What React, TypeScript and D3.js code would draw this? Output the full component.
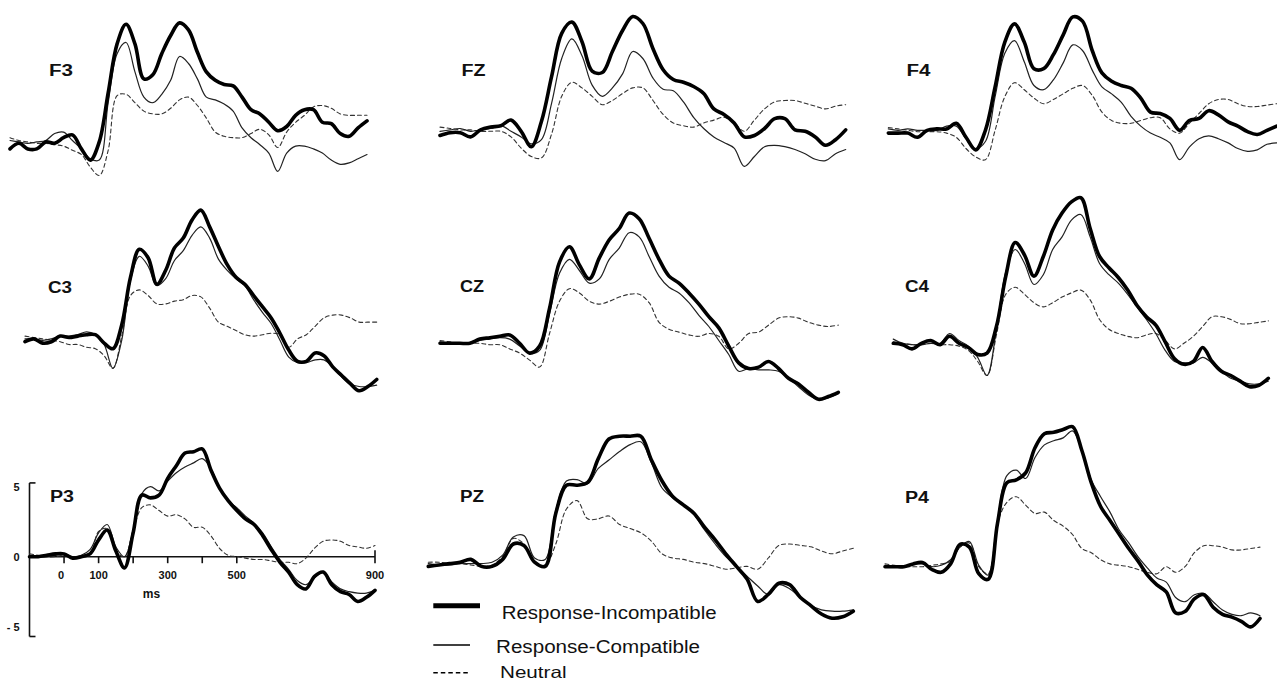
import React from "react";
import * as d3 from "d3";

// sampling grid of the grand averages (ms)
const times = d3.range(-100, 901, 25);
const conditions = ["Response-Incompatible", "Response-Compatible", "Neutral"];

// amplitudes in microvolts, one value per 25 ms from -100 to 900
const f3Incompatible = [-0.4, 0, -0.4, -0.4, 0.1, 0, 0.4, 0.6, -0.4, -1.2, 0.1, 3.6, 7.1, 8.5, 7.1, 4.6, 4.9, 6.4, 7.7, 8.6, 8.1, 6.5, 5.1, 4.5, 4.2, 4.1, 3.3, 2.4, 2.1, 1.5, 0.9, 1.2, 2.0, 2.4, 2.4, 1.5, 1.4, 0.7, 0.5, 1.1, 1.6];
const f3Compatible = [0.2, 0.1, 0, 0.1, 0.2, 0.7, 0.8, 0.2, -0.4, -1.1, -1.2, 2.9, 6.4, 7.2, 5.1, 3.3, 2.9, 3.5, 4.5, 6.2, 5.7, 4.6, 3.3, 3.1, 2.8, 2.3, 1.1, 0.4, -0.1, -0.7, -2.0, -0.7, -0.2, -0.2, -0.4, -0.7, -1.2, -1.5, -1.4, -1.1, -0.8];
const f3Neutral = [0.4, 0.2, 0.1, 0, 0, -0.1, -0.2, -0.5, -0.8, -1.7, -2.3, -0.5, 3.4, 3.5, 2.9, 2.3, 2.1, 2.1, 2.5, 3.1, 3.3, 2.7, 1.8, 0.8, 0.5, 0.4, 0.4, 0.7, 1.0, 0.6, -0.3, 0.8, 1.5, 2.0, 2.6, 2.7, 2.5, 2.1, 2.0, 2.0, 2.0];

const fzIncompatible = [-0.2, 0, 0, -0.3, 0.2, 0.4, 0.5, 0.9, 0.1, -1.0, 0.8, 4.0, 7.1, 7.9, 6.5, 4.4, 4.3, 5.8, 7.3, 8.3, 7.8, 6.0, 4.5, 3.8, 3.6, 3.3, 2.8, 1.7, 1.3, 0.7, -0.3, -0.2, 0.3, 1.0, 1.0, 0.2, 0.1, -0.3, -0.9, -0.5, 0.2];
const fzCompatible = [0.1, 0.2, 0.3, 0.1, 0.2, 0.3, 0.5, 0.1, -0.3, -0.8, -0.5, 2.1, 5.3, 6.7, 5.5, 3.4, 2.6, 3.2, 4.2, 5.8, 5.3, 3.9, 3.1, 3.0, 2.2, 1.1, 0.3, -0.3, -0.7, -1.1, -2.4, -1.7, -1.0, -0.9, -1.0, -1.2, -1.5, -1.9, -2.0, -1.5, -1.2];
const fzNeutral = [0.4, 0.3, 0.2, 0.2, 0.1, 0.1, 0.1, -0.3, -1.1, -1.7, -1.8, -0.1, 2.6, 3.6, 3.2, 2.6, 2.0, 2.3, 2.8, 3.2, 3.2, 2.3, 1.3, 0.7, 0.5, 0.4, 0.7, 0.9, 1.1, 0.7, 0.1, 0.9, 1.7, 2.2, 2.3, 2.3, 2.1, 1.9, 1.7, 1.9, 2.0];

const f4Incompatible = [-0.1, -0.1, -0.1, -0.4, 0.1, 0.2, 0.2, 0.6, -0.4, -1.3, 0.1, 3.2, 6.4, 7.7, 6.4, 4.5, 4.5, 5.5, 6.9, 8.2, 7.9, 5.8, 4.2, 3.6, 3.3, 3.1, 2.4, 1.4, 1.3, 0.95, 0.1, 0.8, 0.95, 1.5, 1.2, 0.7, 0.4, 0, -0.2, 0.1, 0.4];
const f4Compatible = [0.2, 0.1, 0.2, 0.1, 0.1, 0.1, 0.4, 0.4, -0.5, -1.2, -0.7, 2.5, 5.6, 6.5, 5.0, 3.3, 3.0, 3.7, 4.9, 6.2, 5.8, 4.4, 3.2, 2.7, 2.1, 1.1, 0.4, -0.1, -0.4, -0.8, -2.0, -1.1, -0.5, -0.3, -0.5, -0.8, -1.2, -1.4, -1.3, -0.9, -0.8];
const f4Neutral = [0.3, 0.2, 0.1, 0, 0, 0, -0.1, -0.4, -1.2, -1.8, -2.0, 0.1, 2.5, 3.5, 3.0, 2.4, 2.0, 2.3, 2.7, 3.1, 3.3, 2.6, 1.4, 0.8, 0.6, 0.6, 0.8, 1.0, 1.0, 0.2, -0.1, 0.6, 1.3, 2.0, 2.3, 2.3, 2.0, 1.8, 1.8, 1.9, 2.0];

const c3Incompatible = [0, 0.2, -0.1, 0, 0.4, 0.3, 0.4, 0.5, 0.5, -0.1, -0.5, 1.2, 4.6, 6.6, 6.0, 4.1, 5.1, 6.7, 7.4, 8.7, 9.4, 8.2, 6.8, 5.5, 4.6, 4.1, 3.3, 2.5, 1.7, 0.6, -0.6, -1.4, -1.4, -0.8, -1.0, -1.8, -2.4, -3.0, -3.5, -3.2, -2.7];
const c3Compatible = [0.2, 0.2, 0.1, 0.2, 0.4, 0.4, 0.5, 0.7, 0.5, -0.2, -1.9, 0.1, 4.4, 6.1, 5.4, 4.0, 4.5, 5.8, 6.5, 7.6, 8.2, 7.4, 5.9, 5.1, 4.5, 4.0, 3.0, 2.1, 1.3, 0.1, -1.1, -1.5, -1.5, -1.3, -1.3, -1.8, -2.5, -3.0, -3.2, -3.2, -3.1];
const c3Neutral = [0.4, 0.3, 0.2, 0.1, 0, -0.2, -0.2, -0.4, -0.5, -1.0, -1.9, 0.4, 3.3, 3.7, 3.3, 2.7, 2.7, 2.9, 3.0, 3.3, 3.2, 2.4, 1.4, 1.1, 0.8, 0.5, 0.4, 0.5, 0.6, 0.5, -0.4, 0.2, 0.5, 1.1, 1.7, 1.9, 1.9, 1.7, 1.4, 1.4, 1.4];

const czIncompatible = [0, 0, 0, 0, 0.3, 0.4, 0.5, 0.6, 0, -0.7, -0.2, 2.5, 5.8, 6.9, 5.6, 4.6, 6.1, 7.4, 8.2, 9.3, 8.9, 7.5, 6.0, 4.8, 4.3, 3.6, 2.8, 1.9, 1.1, -0.2, -1.4, -1.8, -1.7, -1.3, -1.8, -2.5, -2.9, -3.5, -4.0, -3.8, -3.5];
const czCompatible = [0.1, 0, 0, 0, 0.2, 0.3, 0.4, 0.3, -0.2, -0.7, -0.5, 2.1, 5.0, 6.0, 5.2, 4.3, 4.6, 6.0, 6.8, 7.9, 7.6, 6.2, 4.8, 4.0, 3.6, 2.9, 2.0, 1.2, 0.2, -0.8, -2.0, -1.8, -1.9, -1.9, -2.0, -2.5, -3.1, -3.7, -4.0, -3.9, -3.6];
const czNeutral = [0.2, 0.1, 0, 0, 0, -0.1, -0.1, -0.4, -0.7, -1.2, -1.7, 0.7, 3.0, 3.9, 3.6, 3.0, 2.8, 3.0, 3.3, 3.5, 3.5, 2.9, 1.5, 1.0, 0.8, 0.6, 0.5, 0.7, 0.5, -0.4, 0, 0.7, 0.8, 1.3, 1.8, 1.9, 1.8, 1.5, 1.3, 1.2, 1.3];

const c4Incompatible = [0, -0.1, -0.4, 0, 0.2, -0.1, 0.5, 0, -0.3, -0.8, -0.7, 1.2, 4.8, 7.2, 6.3, 4.8, 6.2, 8.1, 9.3, 10.1, 10.4, 8.2, 6.2, 5.4, 4.7, 3.8, 2.7, 1.9, 1.3, 0.1, -1.1, -1.5, -1.3, -0.3, -1.3, -2.0, -2.3, -2.7, -3.1, -3.0, -2.5];
const c4Compatible = [0.3, 0, -0.1, -0.1, 0, 0, 0.7, 0.2, -0.2, -1.0, -2.3, 1.0, 5.1, 6.7, 5.7, 4.2, 4.9, 6.7, 7.6, 8.8, 9.2, 7.6, 5.7, 4.9, 4.3, 3.5, 2.6, 1.7, 0.7, -0.5, -1.3, -1.4, -1.4, -1.0, -1.4, -2.0, -2.5, -2.7, -2.9, -2.9, -2.7];
const c4Neutral = [0.1, 0, -0.1, -0.1, 0, -0.1, -0.1, -0.2, -0.5, -1.3, -2.3, 0.6, 3.5, 4.0, 3.5, 2.9, 2.6, 2.9, 3.3, 3.6, 3.8, 3.1, 1.7, 1.0, 0.7, 0.5, 0.4, 0.6, 0.7, 0.2, -0.4, 0, 0.5, 1.2, 1.9, 1.9, 1.7, 1.4, 1.4, 1.5, 1.6];

const p3Incompatible = [0, 0, 0.1, 0.2, 0.2, -0.1, 0, 0.2, 1.2, 1.9, 0.4, -0.8, 1.7, 4.4, 4.2, 4.4, 5.6, 6.5, 7.4, 7.5, 7.7, 6.2, 4.9, 4.0, 3.3, 2.7, 2.3, 1.5, 0.5, -0.4, -1.1, -2.0, -2.3, -1.4, -1.1, -2.0, -2.5, -2.7, -3.2, -2.9, -2.4];
const p3Compatible = [0.1, 0, 0, 0.1, 0.2, 0, 0.1, 0.5, 1.7, 2.3, 0.7, 0, 1.9, 4.5, 5.0, 4.7, 5.4, 6.0, 6.4, 6.7, 7.0, 6.3, 4.9, 4.0, 3.5, 2.9, 2.4, 1.7, 0.7, -0.2, -0.9, -1.7, -2.0, -1.5, -1.1, -1.8, -2.3, -2.5, -2.6, -2.6, -2.4];
const p3Neutral = [0.2, 0.1, 0, 0, 0.1, 0, 0, 0.1, 1.8, 2.0, 0.4, 0, 1.9, 3.5, 3.7, 3.3, 2.9, 3.0, 2.7, 2.1, 2.1, 1.5, 0.6, 0.1, 0, -0.1, -0.2, -0.2, -0.3, -0.4, -0.4, -0.5, -0.1, 0.6, 1.1, 1.2, 1.1, 0.8, 0.7, 0.6, 0.8];

const pzIncompatible = [-0.1, 0, 0.1, 0.2, 0.4, -0.1, -0.1, 0.4, 1.5, 1.4, 0.2, -0.1, 3.7, 5.7, 5.7, 5.9, 7.6, 9.0, 9.2, 9.2, 9.2, 7.5, 6.0, 4.9, 4.3, 3.7, 2.7, 1.8, 0.8, -0.1, -1.0, -2.6, -2.1, -1.3, -1.4, -2.3, -2.9, -3.5, -3.8, -3.7, -3.3];
const pzCompatible = [0.1, 0, 0, 0.1, 0.1, 0.1, 0.2, 0.7, 2.0, 2.1, 0.5, 0.4, 3.9, 6.0, 6.1, 5.8, 6.9, 7.5, 8.1, 8.6, 8.8, 7.3, 5.5, 4.8, 4.3, 3.6, 2.5, 1.5, 0.6, -0.1, -0.8, -1.5, -2.1, -1.4, -1.7, -2.3, -2.9, -3.2, -3.3, -3.3, -3.2];
const pzNeutral = [0.2, 0.2, 0.1, 0.1, 0, -0.1, 0, 0.6, 1.9, 1.5, 0.2, 0, 1.5, 4.0, 4.6, 3.3, 3.3, 3.5, 2.9, 2.6, 2.3, 1.7, 0.8, 0.5, 0.4, 0.2, 0.1, -0.1, -0.3, -0.2, -0.1, -0.3, 0.5, 1.4, 1.5, 1.4, 1.3, 1.0, 0.8, 1.0, 1.2];

const p4Incompatible = [0, 0, 0, 0.2, 0.3, -0.2, -0.4, 0.2, 1.6, 1.4, -0.5, -0.9, 3.1, 6.0, 6.2, 6.7, 8.5, 9.5, 9.6, 9.8, 10.0, 8.3, 6.0, 4.3, 3.3, 2.3, 1.3, 0.4, -0.6, -1.3, -1.8, -3.3, -3.2, -2.3, -2.0, -2.9, -3.4, -3.6, -3.9, -4.3, -3.7];
const p4Compatible = [0.1, 0, 0, 0.2, 0.2, 0, 0.1, 0.5, 1.4, 1.8, 0.1, -0.6, 3.3, 6.5, 6.9, 6.3, 7.8, 8.7, 9.0, 9.2, 9.7, 8.3, 6.2, 5.0, 3.9, 2.6, 1.7, 0.7, -0.1, -0.8, -1.1, -2.2, -2.5, -2.0, -1.9, -2.5, -3.1, -3.4, -3.5, -3.3, -3.5];
const p4Neutral = [0.2, 0.1, 0, 0, 0, 0.1, 0.2, 0.4, 1.4, 1.7, 0, -0.5, 3.1, 4.6, 5.0, 4.4, 3.8, 3.9, 3.3, 2.9, 2.3, 1.3, 1.0, 0.5, 0.2, 0.1, 0, -0.2, -0.4, -0.5, 0, -0.4, 0, 1.0, 1.5, 1.5, 1.4, 1.2, 1.2, 1.3, 1.4];

const electrodes = ["F3", "FZ", "F4", "C3", "CZ", "C4", "P3", "PZ", "P4"];
const seriesByElectrode: Record<string, number[][]> = {
  F3: [f3Incompatible, f3Compatible, f3Neutral],
  FZ: [fzIncompatible, fzCompatible, fzNeutral],
  F4: [f4Incompatible, f4Compatible, f4Neutral],
  C3: [c3Incompatible, c3Compatible, c3Neutral],
  CZ: [czIncompatible, czCompatible, czNeutral],
  C4: [c4Incompatible, c4Compatible, c4Neutral],
  P3: [p3Incompatible, p3Compatible, p3Neutral],
  PZ: [pzIncompatible, pzCompatible, pzNeutral],
  P4: [p4Incompatible, p4Compatible, p4Neutral],
};

const xTicks = [0, 100, 200, 300, 400, 500];
const xTickLabels = [0, 100, 300, 500, 900];
const yTickLabels = [5, 0, -5];

// where every panel sits on the page (x at -100 ms and 900 ms, y of 0 µV)
const layout: Record<string, { x0: number; x1: number; y0: number; lx: number; ly: number }> = {
  F3: { x0: 10, x1: 367, y0: 143.3, lx: 49, ly: 75.5 },
  FZ: { x0: 440, x1: 845.7, y0: 132.7, lx: 461.5, ly: 75.5 },
  F4: { x0: 888.3, x1: 1276.7, y0: 131.7, lx: 906.5, ly: 76 },
  C3: { x0: 25, x1: 376.7, y0: 341.7, lx: 48, ly: 293 },
  CZ: { x0: 440, x1: 838.3, y0: 343.3, lx: 460, ly: 291.5 },
  C4: { x0: 893.3, x1: 1268.3, y0: 343.3, lx: 905, ly: 292 },
  P3: { x0: 29.5, x1: 375, y0: 556.7, lx: 50, ly: 501.5 },
  PZ: { x0: 428.3, x1: 853.3, y0: 565, lx: 460, ly: 501.7 },
  P4: { x0: 885, x1: 1260, y0: 566.7, lx: 905, ly: 503 },
};
const PX_PER_UV = 14;

const styles = [
  { stroke: "#000", width: 3.6, dash: null as string | null },
  { stroke: "#222", width: 1.2, dash: null as string | null },
  { stroke: "#333", width: 1.1, dash: "4 3" },
];

const FONT = "'Liberation Sans', Arial, Helvetica, sans-serif";

function Panel({ name }: { name: string }) {
  const l = layout[name];
  const x = d3.scaleLinear().domain([-100, 900]).range([l.x0, l.x1]);
  const y = d3.scaleLinear().domain([0, 1]).range([l.y0, l.y0 - PX_PER_UV]);
  const line = d3
    .line<number>()
    .x((_, i) => x(times[i]))
    .y((d) => y(d))
    .curve(d3.curveCatmullRom.alpha(0.5));
  const data = seriesByElectrode[name];
  const order = [2, 1, 0];

  return (
    <g>
      {name === "P3" && (
        <g stroke="#111" strokeWidth={1.6} fill="none">
          <line x1={x(-100)} x2={x(-100)} y1={y(5.27)} y2={y(-5.7)} />
          <line x1={x(-100)} x2={x(-100) + 6} y1={y(5.27)} y2={y(5.27)} />
          <line x1={x(-100)} x2={x(-100) + 6} y1={y(-5.7)} y2={y(-5.7)} />
          <line x1={x(-100)} x2={x(900)} y1={y(0)} y2={y(0)} />
          {xTicks.map((t) => (
            <line key={t} x1={x(t)} x2={x(t)} y1={y(0)} y2={y(0) + 6.5} />
          ))}
          <line x1={x(900)} x2={x(900)} y1={y(0) - 6.5} y2={y(0) + 6.5} />
        </g>
      )}
      {name === "P3" && (
        <g fontFamily={FONT} fontWeight="bold" fontSize={11} fill="#111">
          {xTickLabels.map((t) => (
            <text key={t} x={x(t) - (t === 0 ? 3 : 0)} y={y(0) + 22.5} textAnchor="middle">
              {t}
            </text>
          ))}
          {yTickLabels.map((v) => (
            <text key={v} x={19.5} y={y(v) + 4} textAnchor="end">
              {v < 0 ? "- " + Math.abs(v) : v}
            </text>
          ))}
          <text x={x(250) + 1} y={598} textAnchor="middle" fontSize={12}>
            ms
          </text>
        </g>
      )}
      {order.map((k) => (
        <path
          key={k}
          d={line(data[k]) || ""}
          fill="none"
          stroke={styles[k].stroke}
          strokeWidth={styles[k].width}
          strokeDasharray={styles[k].dash || undefined}
          strokeLinejoin="round"
          strokeLinecap="round"
        />
      ))}
      <text
        x={l.lx}
        y={l.ly}
        fontFamily={FONT}
        fontWeight="bold"
        fontSize={16}
        textLength={24}
        lengthAdjust="spacingAndGlyphs"
        fill="#111"
      >
        {name}
      </text>
    </g>
  );
}

function Legend() {
  const rows = [
    { y: 605.7, x2: 480, ty: 619.3, tx: 501.7, tw: 215 },
    { y: 645, x2: 470, ty: 653.3, tx: 496, tw: 204 },
    { y: 672.7, x2: 470, ty: 677.5, tx: 500, tw: 66.5 },
  ];
  return (
    <g>
      {rows.map((r, i) => (
        <g key={conditions[i]}>
          <line
            x1={433.3}
            x2={r.x2}
            y1={r.y}
            y2={r.y}
            stroke="#000"
            strokeWidth={i === 0 ? 5 : 1.5}
            strokeDasharray={i === 2 ? "4.5 3" : undefined}
          />
          <text
            x={r.tx}
            y={r.ty}
            fontFamily={FONT}
            fontSize={i === 2 ? 16.5 : 17.5}
            textLength={r.tw}
            lengthAdjust="spacingAndGlyphs"
            fill="#111"
          >
            {conditions[i]}
          </text>
        </g>
      ))}
    </g>
  );
}

export default function App() {
  return (
    <svg
      width={1277}
      height={681}
      viewBox="0 0 1277 681"
      style={{ position: "absolute", left: 0, top: 0, background: "#fff" }}
    >
      <rect width={1277} height={681} fill="#fff" />
      {electrodes.map((e) => (
        <Panel key={e} name={e} />
      ))}
      <Legend />
    </svg>
  );
}
